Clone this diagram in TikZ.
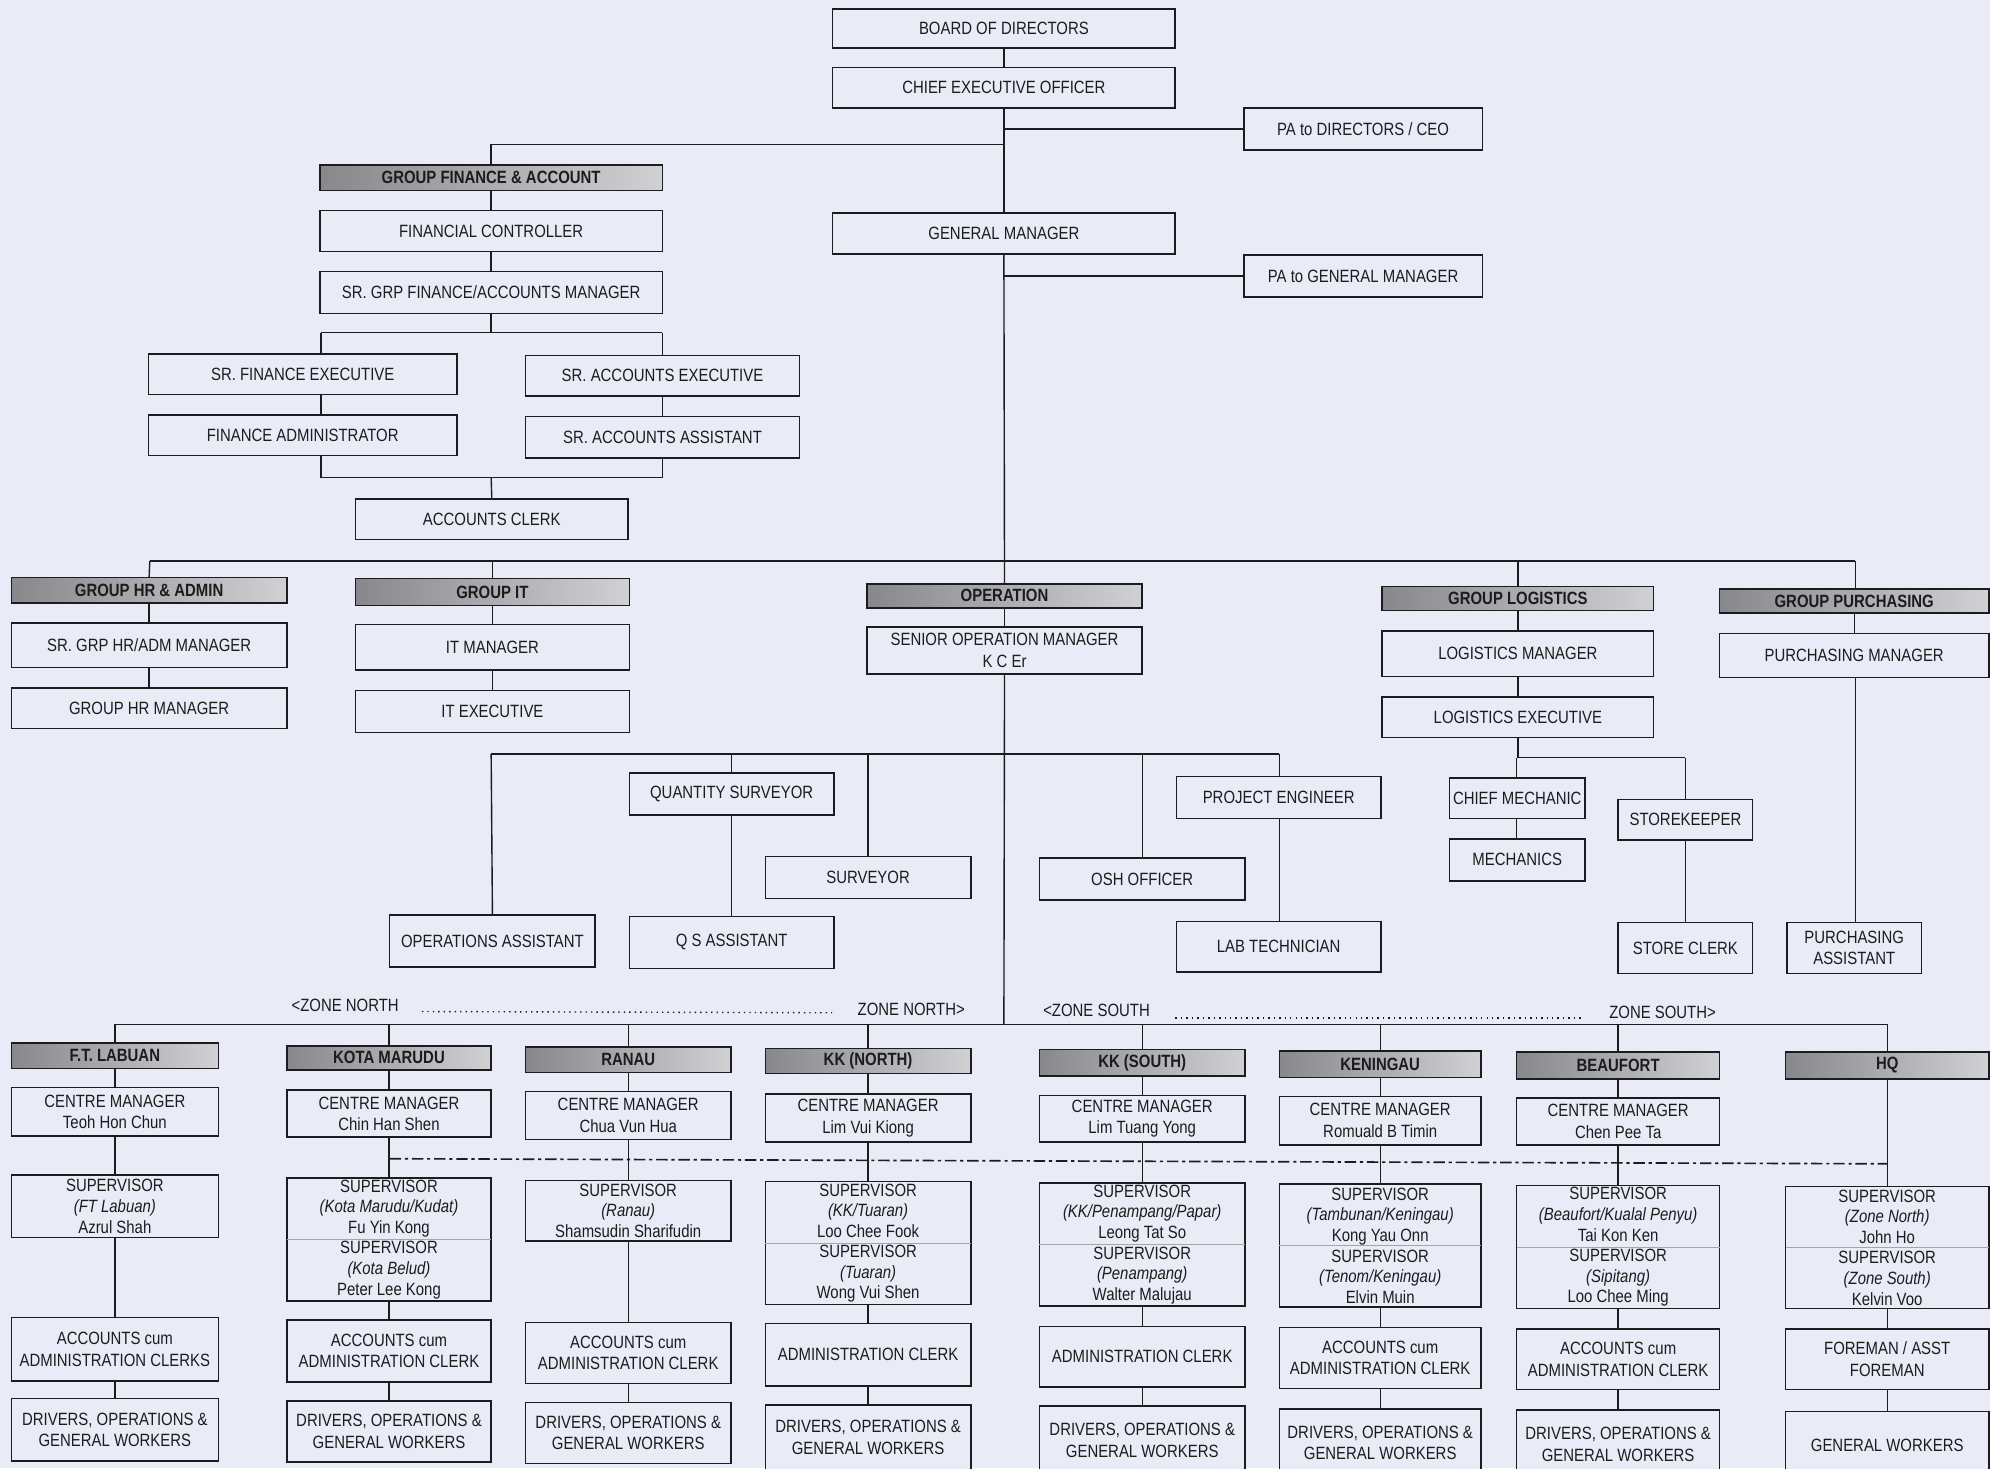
\documentclass[tikz,border=0pt]{standalone}
\usepackage{fontspec}
\setmainfont[FakeStretch=0.84]{Liberation Sans}
\definecolor{bgcol}{RGB}{233,235,246}
\definecolor{hdrL}{RGB}{135,135,140}
\definecolor{hdrR}{RGB}{208,208,213}
\definecolor{ink}{RGB}{28,28,28}
\newcommand\orgbox[7]{\node[#1, minimum width={(#5-#3)*1pt}, minimum height={(#6-#4)*1pt}] (#2) at ({(#3+#5)/2},{(#4+#6)/2}) {#7};}
\tikzset{
  box/.style={draw=ink, line width=1.2pt, fill=bgcol, inner sep=0pt, outer sep=0pt, align=center,
    font=\fontsize{14}{17}\selectfont, text=ink},
  hdr/.style={box, left color=hdrL, right color=hdrR, font=\fontsize{14}{17}\selectfont\bfseries},
  supbox/.style={box, font=\fontsize{14}{16.2}\selectfont},
  conn/.style={draw=ink, line width=1.1pt},
  divline/.style={draw=gray!70, line width=0.6pt},
  zonedots/.style={draw=ink, line width=1.1pt, dash pattern=on 1.1pt off 3.2pt},
  dashdotline/.style={draw=ink, line width=1.3pt, dash pattern=on 9pt off 3pt on 2.5pt off 3pt},
  zonelbl/.style={inner sep=0pt, font=\fontsize{14}{17}\selectfont, text=ink}
}
\begin{document}
\begin{tikzpicture}[x=1pt,y=-1pt]
\fill[bgcol] (0,0) rectangle (1568,1157);
\useasboundingbox (0,0) rectangle (1568,1157);
\clip (0,0) rectangle (1568,1157);
% ---------- top ----------
\orgbox{box}{bod}{656}{7}{926}{38}{BOARD OF DIRECTORS}
\orgbox{box}{ceo}{656}{53}{926}{85}{CHIEF EXECUTIVE OFFICER}
\orgbox{box}{padir}{980}{85}{1168}{118}{PA to DIRECTORS / CEO}
\orgbox{box}{gm}{656}{168}{926}{200}{GENERAL MANAGER}
\orgbox{box}{pagm}{980}{201}{1168}{234}{PA to GENERAL MANAGER}
% ---------- finance ----------
\orgbox{hdr}{gfa}{252}{130}{522}{150}{GROUP FINANCE \& ACCOUNT}
\orgbox{box}{fc}{252}{166}{522}{198}{FINANCIAL CONTROLLER}
\orgbox{box}{sgfm}{252}{214}{522}{247}{SR. GRP FINANCE/ACCOUNTS MANAGER}
\orgbox{box}{sfe}{117}{279}{360}{311}{SR. FINANCE EXECUTIVE}
\orgbox{box}{sae}{414}{280}{630}{312}{SR. ACCOUNTS EXECUTIVE}
\orgbox{box}{fa}{117}{327}{360}{359}{FINANCE ADMINISTRATOR}
\orgbox{box}{saa}{414}{328}{630}{361}{SR. ACCOUNTS ASSISTANT}
\orgbox{box}{ac}{280}{393}{495}{425}{ACCOUNTS CLERK}
% ---------- middle row ----------
\orgbox{hdr}{ghr}{9}{455}{226}{475}{GROUP HR \& ADMIN}
\orgbox{box}{sghr}{9}{491}{226}{526}{SR. GRP HR/ADM MANAGER}
\orgbox{box}{ghrm}{9}{542}{226}{574}{GROUP HR MANAGER}
\orgbox{hdr}{git}{280}{456}{496}{477}{GROUP IT}
\orgbox{box}{itm}{280}{492}{496}{528}{IT MANAGER}
\orgbox{box}{ite}{280}{544}{496}{577}{IT EXECUTIVE}
\orgbox{hdr}{ope}{683}{460}{900}{479}{OPERATION}
\orgbox{box}{som}{683}{494}{900}{531}{SENIOR OPERATION MANAGER\\K C Er}
\orgbox{hdr}{glog}{1089}{462}{1303}{481}{GROUP LOGISTICS}
\orgbox{box}{lm}{1089}{497}{1303}{533}{LOGISTICS MANAGER}
\orgbox{box}{le}{1089}{549}{1303}{581}{LOGISTICS EXECUTIVE}
\orgbox{hdr}{gpur}{1355}{464}{1567}{483}{GROUP PURCHASING}
\orgbox{box}{pm}{1355}{499}{1567}{534}{PURCHASING MANAGER}
% ---------- operation staff ----------
\orgbox{box}{qs}{496}{609}{657}{642}{QUANTITY SURVEYOR}
\orgbox{box}{sur}{603}{675}{765}{708}{SURVEYOR}
\orgbox{box}{oa}{307}{721}{469}{762}{OPERATIONS ASSISTANT}
\orgbox{box}{qsa}{496}{722}{657}{763}{Q S ASSISTANT}
\orgbox{box}{osh}{819}{676}{981}{709}{OSH OFFICER}
\orgbox{box}{pe}{927}{612}{1088}{645}{PROJECT ENGINEER}
\orgbox{box}{lt}{927}{726}{1088}{766}{LAB TECHNICIAN}
\orgbox{box}{cmech}{1142}{613}{1249}{645}{CHIEF MECHANIC}
\orgbox{box}{mech}{1142}{661}{1249}{694}{MECHANICS}
\orgbox{box}{sk}{1275}{630}{1381}{662}{STOREKEEPER}
\orgbox{box}{sc}{1275}{727}{1381}{767}{STORE CLERK}
\orgbox{box}{pa}{1408}{727}{1514}{767}{PURCHASING\\ASSISTANT}
% ---------- zones: columns ----------
\orgbox{hdr}{labh}{9}{822}{172}{842}{F.T. LABUAN}
\orgbox{box}{labm}{9}{857}{172}{895}{CENTRE MANAGER\\Teoh Hon Chun}
\orgbox{supbox}{labs}{9}{926}{172}{975}{SUPERVISOR\\\textit{(FT Labuan)}\\Azrul Shah}
\orgbox{box}{laba}{9}{1038}{172}{1088}{ACCOUNTS cum\\ADMINISTRATION CLERKS}
\orgbox{box}{labd}{9}{1102}{172}{1151}{DRIVERS, OPERATIONS \&\\GENERAL WORKERS}
%
\orgbox{hdr}{kmh}{226}{824}{387}{843}{KOTA MARUDU}
\orgbox{box}{kmm}{226}{859}{387}{896}{CENTRE MANAGER\\Chin Han Shen}
\orgbox{supbox}{kms}{226}{928}{387}{1025}{SUPERVISOR\\\textit{(Kota Marudu/Kudat)}\\Fu Yin Kong\\SUPERVISOR\\\textit{(Kota Belud)}\\Peter Lee Kong}
\orgbox{box}{kma}{226}{1040}{387}{1089}{ACCOUNTS cum\\ADMINISTRATION CLERK}
\orgbox{box}{kmd}{226}{1104}{387}{1152}{DRIVERS, OPERATIONS \&\\GENERAL WORKERS}
%
\orgbox{hdr}{ranh}{414}{825}{576}{845}{RANAU}
\orgbox{box}{ranm}{414}{860}{576}{898}{CENTRE MANAGER\\Chua Vun Hua}
\orgbox{supbox}{rans}{414}{930}{576}{978}{SUPERVISOR\\\textit{(Ranau)}\\Shamsudin Sharifudin}
\orgbox{box}{rana}{414}{1042}{576}{1090}{ACCOUNTS cum\\ADMINISTRATION CLERK}
\orgbox{box}{rand}{414}{1105}{576}{1153}{DRIVERS, OPERATIONS \&\\GENERAL WORKERS}
%
\orgbox{hdr}{kknh}{603}{826}{765}{846}{KK (NORTH)}
\orgbox{box}{kknm}{603}{862}{765}{900}{CENTRE MANAGER\\Lim Vui Kiong}
\orgbox{supbox}{kkns}{603}{931}{765}{1028}{SUPERVISOR\\\textit{(KK/Tuaran)}\\Loo Chee Fook\\SUPERVISOR\\\textit{(Tuaran)}\\Wong Vui Shen}
\orgbox{box}{kkna}{603}{1043}{765}{1092}{ADMINISTRATION CLERK}
\orgbox{box}{kknd}{603}{1107}{765}{1158}{DRIVERS, OPERATIONS \&\\GENERAL WORKERS}
%
\orgbox{hdr}{kksh}{819}{827}{981}{848}{KK (SOUTH)}
\orgbox{box}{kksm}{819}{863}{981}{900}{CENTRE MANAGER\\Lim Tuang Yong}
\orgbox{supbox}{kkss}{819}{932}{981}{1029}{SUPERVISOR\\\textit{(KK/Penampang/Papar)}\\Leong Tat So\\SUPERVISOR\\\textit{(Penampang)}\\Walter Malujau}
\orgbox{box}{kksa}{819}{1045}{981}{1093}{ADMINISTRATION CLERK}
\orgbox{box}{kksd}{819}{1108}{981}{1162}{DRIVERS, OPERATIONS \&\\GENERAL WORKERS}
%
\orgbox{hdr}{kenh}{1008}{828}{1167}{849}{KENINGAU}
\orgbox{box}{kenm}{1008}{864}{1167}{902}{CENTRE MANAGER\\Romuald B Timin}
\orgbox{supbox}{kens}{1008}{933}{1167}{1030}{SUPERVISOR\\\textit{(Tambunan/Keningau)}\\Kong Yau Onn\\SUPERVISOR\\\textit{(Tenom/Keningau)}\\Elvin Muin}
\orgbox{box}{kena}{1008}{1046}{1167}{1094}{ACCOUNTS cum\\ADMINISTRATION CLERK}
\orgbox{box}{kend}{1008}{1110}{1167}{1164}{DRIVERS, OPERATIONS \&\\GENERAL WORKERS}
%
\orgbox{hdr}{beah}{1195}{829}{1355}{850}{BEAUFORT}
\orgbox{box}{beam}{1195}{865}{1355}{902}{CENTRE MANAGER\\Chen Pee Ta}
\orgbox{supbox}{beas}{1195}{934}{1355}{1031}{SUPERVISOR\\\textit{(Beaufort/Kualal Penyu)}\\Tai Kon Ken\\SUPERVISOR\\\textit{(Sipitang)}\\Loo Chee Ming}
\orgbox{box}{beaa}{1195}{1047}{1355}{1095}{ACCOUNTS cum\\ADMINISTRATION CLERK}
\orgbox{box}{bead}{1195}{1111}{1355}{1165}{DRIVERS, OPERATIONS \&\\GENERAL WORKERS}
%
\orgbox{hdr}{hqh}{1407}{829}{1567}{850}{HQ}
\orgbox{supbox}{hqs}{1407}{935}{1567}{1031}{SUPERVISOR\\\textit{(Zone North)}\\John Ho\\SUPERVISOR\\\textit{(Zone South)}\\Kelvin Voo}
\orgbox{box}{hqa}{1407}{1047}{1567}{1095}{FOREMAN / ASST\\FOREMAN}
\orgbox{box}{hqd}{1407}{1112}{1567}{1166}{GENERAL WORKERS}
% dividers in double supervisor boxes
\foreach \c in {kms,kkns,kkss,kens,beas,hqs}{\draw[divline] (\c.west) -- (\c.east);}
% ---------- zone labels ----------
\node[zonelbl] (zn1) at (272,792) {<ZONE NORTH};
\node[zonelbl] (zn2) at (718,795) {ZONE NORTH>};
\node[zonelbl] (zs1) at (864,796) {<ZONE SOUTH};
\node[zonelbl] (zs2) at (1310,798) {ZONE SOUTH>};
\draw[zonedots] ([xshift=18pt,yshift=-5pt]zn1.east) -- ([xshift=-20pt,yshift=-3pt]zn2.west);
\draw[zonedots] ([xshift=20pt,yshift=-6pt]zs1.east) -- ([xshift=-22pt,yshift=-4pt]zs2.west);
% ---------- coordinates ----------
\coordinate (jf) at (791,114);
\coordinate (fbl) at (253,262);
\coordinate (fbr) at (522,262);
\coordinate (fbm) at (387,262);
\coordinate (fml) at (253,376);
\coordinate (fmr) at (522,376);
\coordinate (fmm) at (387,376);
\coordinate (mrl) at (118,442);
\coordinate (mrr) at (1462,442);
\coordinate (obl) at (387,594);
\coordinate (obr) at (1008,594);
\coordinate (lbl) at (1195,597);
\coordinate (lbr) at (1328,597);
\coordinate (zl) at (791,807);
\coordinate (ddl) at (307,913);
\coordinate (ddr) at (1487,917);
% ---------- connectors: top ----------
\draw[conn] (bod.south) -- (ceo.north);
\draw[conn] (ceo.south) -- (gm.north);
\draw[conn] (padir.west) -- (padir.west -| ceo.south);
\draw[conn] (jf) -| (gfa.north);
\draw[conn] (pagm.west) -- (pagm.west -| gm.south);
% finance
\draw[conn] (gfa.south) -- (fc.north);
\draw[conn] (fc.south) -- (sgfm.north);
\draw[conn] (sgfm.south) -- (fbm);
\draw[conn] (fbl) -- (fbr);
\draw[conn] (fbl) -- (fbl |- sfe.north);
\draw[conn] (fbr) -- (fbr |- sae.north);
\draw[conn] (fbl |- sfe.south) -- (fbl |- fa.north);
\draw[conn] (fbr |- sae.south) -- (fbr |- saa.north);
\draw[conn] (fbl |- fa.south) -- (fml) -- (fmr) -- (fbr |- saa.south);
\draw[conn] (fmm) -- (ac.north);
% middle row
\draw[conn] (gm.south) -- (ope.north);
\draw[conn] (mrl) -- (mrr);
\draw[conn] (mrl) -- (ghr.north);
\draw[conn] (ghr.south) -- (sghr.north);
\draw[conn] (sghr.south) -- (ghrm.north);
\draw[conn] (git.north |- mrl) -- (git.north);
\draw[conn] (git.south) -- (itm.north);
\draw[conn] (itm.south) -- (ite.north);
\draw[conn] (glog.north |- mrl) -- (glog.north);
\draw[conn] (glog.south) -- (lm.north);
\draw[conn] (lm.south) -- (le.north);
\draw[conn] (mrr) -- (mrr |- gpur.north);
\draw[conn] (gpur.south) -- (pm.north);
\draw[conn] (pm.south -| mrr) -- (mrr |- pa.north);
\draw[conn] (ope.south) -- (som.north);
\draw[conn] (som.south) -- (zl);
% operation staff
\draw[conn] (obl) -- (obr);
\draw[conn] (obl) -- (oa.north);
\draw[conn] (qs.north |- obl) -- (qs.north);
\draw[conn] (qs.south) -- (qsa.north);
\draw[conn] (sur.north |- obl) -- (sur.north);
\draw[conn] (osh.north |- obl) -- (osh.north);
\draw[conn] (obr) -- (obr |- pe.north);
\draw[conn] (obr |- pe.south) -- (obr |- lt.north);
% logistics staff
\draw[conn] (le.south) -- (le.south |- lbl);
\draw[conn] (lbl) -- (lbr);
\draw[conn] (lbl) -- (lbl |- cmech.north);
\draw[conn] (lbl |- cmech.south) -- (lbl |- mech.north);
\draw[conn] (lbr) -- (lbr |- sk.north);
\draw[conn] (lbr |- sk.south) -- (lbr |- sc.north);
% ---------- zones ----------
\draw[conn] (labh.north |- zl) -- (hqh.north |- zl);
\foreach \c in {lab,km,ran,kkn,kks,ken,bea}{
  \draw[conn] (\c h.north |- zl) -- (\c h.north);
  \draw[conn] (\c h.south) -- (\c m.north);
  \draw[conn] (\c m.south) -- (\c s.north);
  \draw[conn] (\c s.south) -- (\c a.north);
  \draw[conn] (\c a.south) -- (\c d.north);
}
\draw[conn] (hqh.north |- zl) -- (hqh.north);
\draw[conn] (hqh.south) -- (hqs.north);
\draw[conn] (hqs.south) -- (hqa.north);
\draw[conn] (hqa.south) -- (hqd.north);
% dash-dot zone separator
\draw[dashdotline] (ddl) -- (ddr);
\end{tikzpicture}
\end{document}
